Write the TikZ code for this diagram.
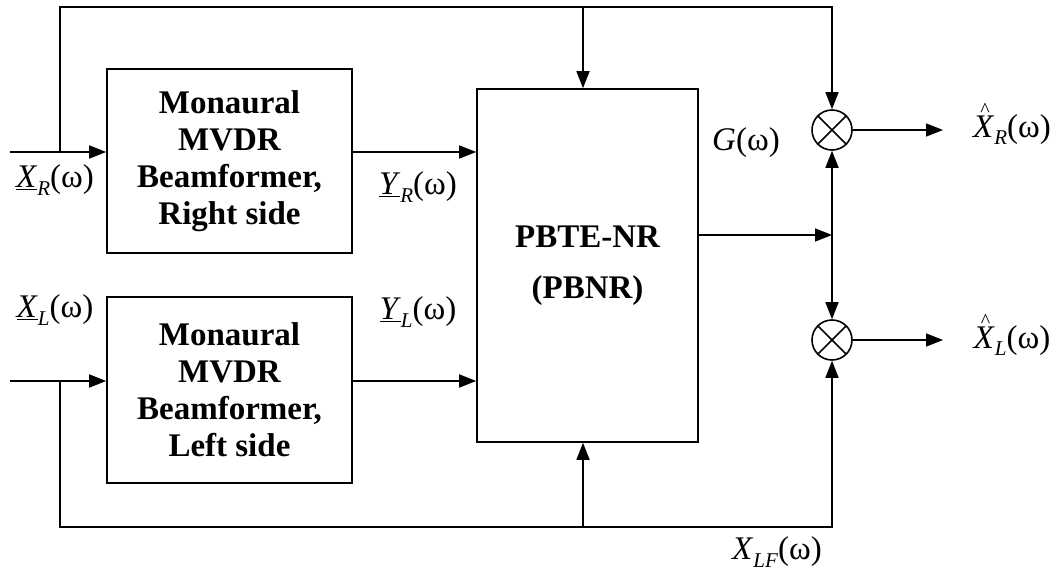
\documentclass[tikz,border=0pt]{standalone}
\usepackage{fontspec}
\setmainfont{Liberation Serif}
\usetikzlibrary{arrows.meta}
\newcommand{\subl}[1]{\raisebox{-0.22em}{\fontsize{21}{21}\selectfont\textit{#1}}}
\newcommand{\hatX}{\makebox[0pt][l]{\hspace{0.22em}\raisebox{0.62em}{\fontsize{20}{20}\selectfont\textasciicircum}}\textit{X}}
\begin{document}
\begin{tikzpicture}[x=1pt,y=-1pt,
  line width=1.6pt,
  arr/.style={-{Triangle[length=17pt,width=13pt]}},
  blk/.style={draw, rectangle, inner sep=0pt, align=center, font=\fontsize{33}{37}\selectfont\bfseries},
  mul/.style={draw, circle, minimum size=40pt, inner sep=0pt},
  lbl/.style={font=\fontsize{33}{36}\selectfont, inner sep=0pt}]
\useasboundingbox (0,0) rectangle (1064,577);

% blocks
\node[blk, minimum width=245pt, minimum height=184pt] (box1) at (229.5,161) {Monaural\\MVDR\\Beamformer,\\Right side};
\node[blk, minimum width=245pt, minimum height=186pt] (box2) at (229.5,390) {Monaural\\MVDR\\Beamformer,\\Left side};
\node[blk, minimum width=221pt, minimum height=353pt] (big) at (587.5,265.5) {PBTE-NR\\[14pt](PBNR)};
\node[mul] (mulR) at (832,130) {};
\node[mul] (mulL) at (832,340) {};
\draw (mulR.north west) -- (mulR.south east) (mulR.north east) -- (mulR.south west);
\draw (mulL.north west) -- (mulL.south east) (mulL.north east) -- (mulL.south west);

% coordinates
\coordinate (inR) at (10,152);
\coordinate (tapR) at (60,152);
\coordinate (inL) at (10,381);
\coordinate (tapL) at (60,381);
\coordinate (topB) at (583,7);
\coordinate (botB) at (583,527);
\coordinate (J) at (832,235);
\coordinate (outR) at (943,130);
\coordinate (outL) at (943,340);

% connectors
\draw[arr] (inR) -- (inR -| box1.west);
\draw[arr] (inR -| box1.east) -- (inR -| big.west);
\draw[arr] (tapR) |- (topB) -| (mulR.north);
\draw[arr] (topB) -- (topB |- big.north);
\draw[arr] (inL) -- (inL -| box2.west);
\draw[arr] (inL -| box2.east) -- (inL -| big.west);
\draw[arr] (tapL) |- (botB) -| (mulL.south);
\draw[arr] (botB) -- (botB |- big.south);
\draw[arr] (J -| big.east) -- (J);
\draw[arr] (J) -- (mulR.south);
\draw[arr] (J) -- (mulL.north);
\draw[arr] (mulR.east) -- (outR);
\draw[arr] (mulL.east) -- (outL);

% labels
\node[lbl] (lXR) at (55,180) {\underline{\textit{X}}\subl{R}(ω)};
\node[lbl] (lYR) at (418,187) {\underline{\textit{Y}}\subl{R}(ω)};
\node[lbl] (lXL) at (55,310) {\underline{\textit{X}}\subl{L}(ω)};
\node[lbl] (lYL) at (418,312) {\underline{\textit{Y}}\subl{L}(ω)};
\node[lbl] (lG) at (746,143) {\textit{G}(ω)};
\node[lbl] (lXRh) at (1012,124) {\hatX\subl{R}(ω)};
\node[lbl] (lXLh) at (1012,335) {\hatX\subl{L}(ω)};
\node[lbl] (lXLF) at (777,552) {\textit{X}\subl{LF}(ω)};
\end{tikzpicture}
\end{document}
